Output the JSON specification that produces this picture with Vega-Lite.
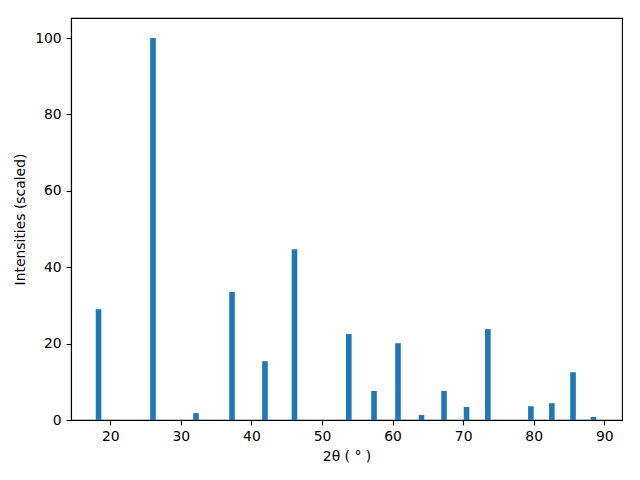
{
  "$schema": "https://vega.github.io/schema/vega-lite/v6.json",
  "width": 551,
  "height": 402,
  "autosize": {"type": "none"},
  "padding": {"left": 71, "top": 18, "right": 18, "bottom": 60},
  "background": "white",
  "config": {
    "view": {"stroke": "black", "strokeWidth": 1.1},
    "font": "DejaVu Sans",
    "axis": {
      "grid": false,
      "domainColor": "black",
      "domainWidth": 1.1,
      "tickColor": "black",
      "tickSize": 4.9,
      "tickWidth": 1.1,
      "labelFont": "DejaVu Sans",
      "labelFontSize": 13.9,
      "labelColor": "black",
      "labelPadding": 4.9,
      "titleFont": "DejaVu Sans",
      "titleFontSize": 13.9,
      "titleFontWeight": "normal",
      "titleColor": "black"
    }
  },
  "data": {
    "values": [
      {"angle": 18.33, "intensity": 29.0},
      {"angle": 26.05, "intensity": 100.0},
      {"angle": 32.14, "intensity": 1.8},
      {"angle": 37.25, "intensity": 33.5},
      {"angle": 41.92, "intensity": 15.4},
      {"angle": 46.1, "intensity": 44.7},
      {"angle": 53.8, "intensity": 22.5},
      {"angle": 57.37, "intensity": 7.6},
      {"angle": 60.77, "intensity": 20.1},
      {"angle": 64.1, "intensity": 1.3},
      {"angle": 67.29, "intensity": 7.6},
      {"angle": 70.48, "intensity": 3.4},
      {"angle": 73.5, "intensity": 23.8},
      {"angle": 79.6, "intensity": 3.6},
      {"angle": 82.57, "intensity": 4.4},
      {"angle": 85.57, "intensity": 12.5},
      {"angle": 88.47, "intensity": 0.8}
    ]
  },
  "mark": {"type": "bar", "size": 5.6, "color": "#1f77b4"},
  "encoding": {
    "x": {
      "field": "angle",
      "type": "quantitative",
      "scale": {"domain": [14.43, 92.51], "nice": false, "zero": false, "padding": 0},
      "axis": {"values": [20, 30, 40, 50, 60, 70, 80, 90], "title": "2θ ( ° )", "titlePadding": 6}
    },
    "y": {
      "field": "intensity",
      "type": "quantitative",
      "scale": {"domain": [0, 105.24], "nice": false, "padding": 0},
      "axis": {"values": [0, 20, 40, 60, 80, 100], "title": "Intensities (scaled)", "titlePadding": 7}
    }
  }
}
